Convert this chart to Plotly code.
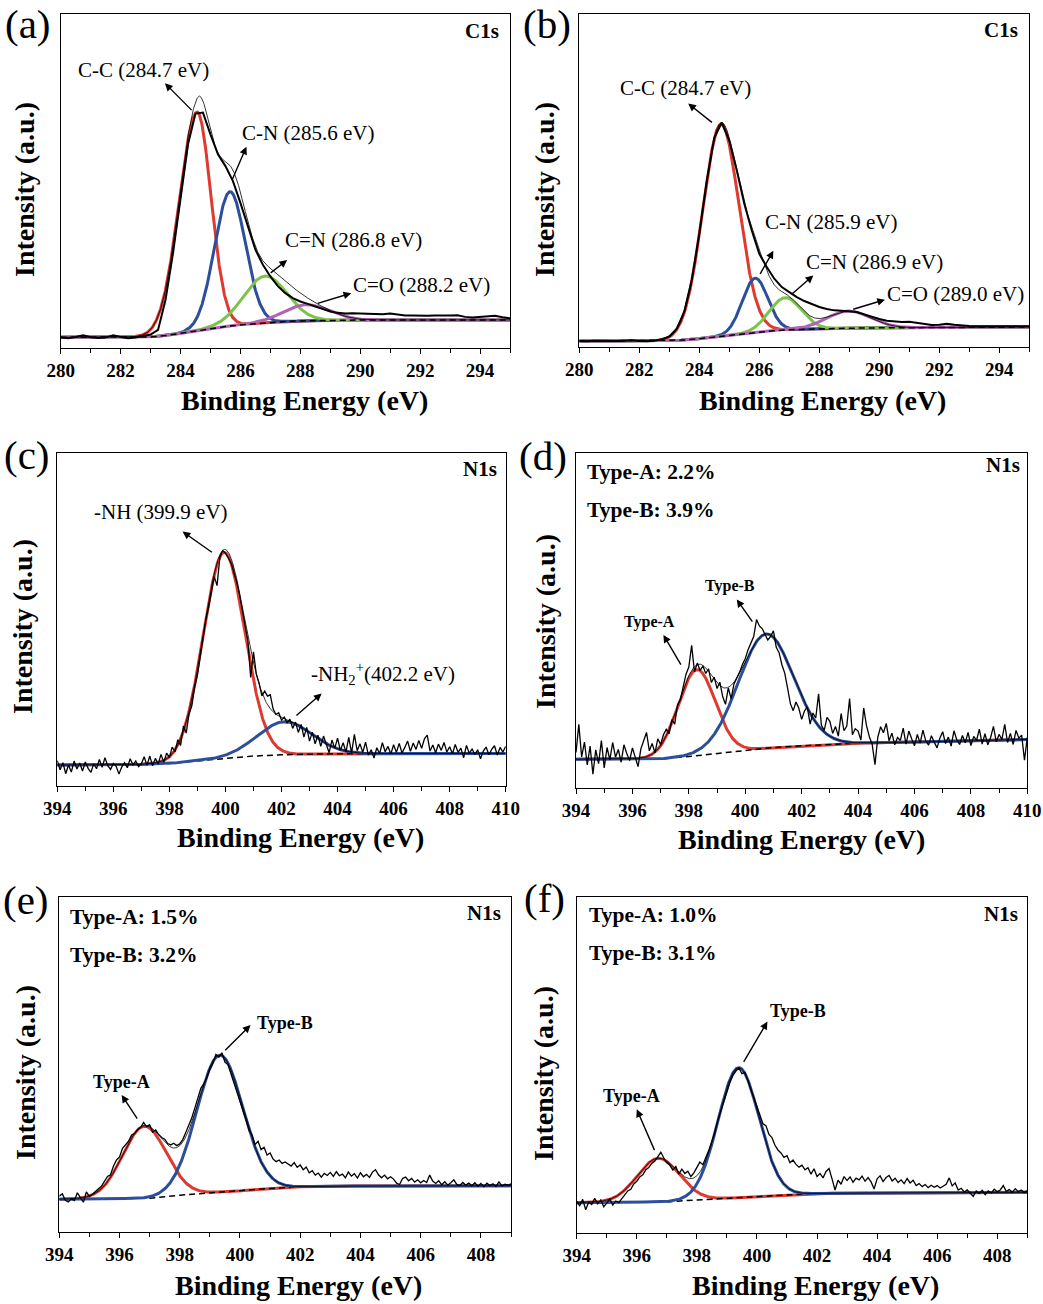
import numpy as np
import plotly.graph_objects as go

FONT = "Liberation Serif"
W, H = 1043, 1304

# ----------------------------- DATA -----------------------------
# (a) C1s
a_raw_start, a_raw_step = 280.0, 0.25
a_raw = [3.2, 3.0, 3.4, 3.9, 3.3, 3.1, 3.2, 3.9, 3.4, 3.0,
         3.2, 3.6, 4.1, 5.5, 14.5, 28.5, 44.5, 61.0, 70.2, 70.5,
         64.0, 58.0, 54.5, 50.0, 43.5, 36.5, 29.5, 25.0, 21.5, 18.6,
         16.5, 15.0, 14.0, 13.3, 12.5, 11.8, 11.0, 10.6, 10.4, 10.5,
         10.4, 10.3, 10.4, 10.2, 10.4, 10.0, 9.8, 9.8, 9.7, 9.7,
         9.8, 9.7, 9.8, 9.9, 9.4, 9.2, 9.3, 9.6, 9.7, 9.3, 9.0]
a_base_x = [280, 283, 283.5, 284, 284.5, 285, 285.5, 286, 286.5, 287, 287.5, 288, 289, 290, 295]
a_base_y = [3.3, 3.4, 3.8, 4.5, 5.2, 6.0, 6.5, 7.0, 7.4, 7.7, 8.0, 8.2, 8.35, 8.45, 8.5]
a_center = [284.55, 285.65, 286.82, 288.2]
a_amp = [65.4, 40.2, 14.0, 4.8]
a_fwhm_l = [1.4, 1.2, 1.7, 1.8]
a_fwhm_r = [1.1, 1.2, 1.7, 1.8]
a_labels = ["C-C (284.7 eV)", "C-N (285.6 eV)", "C=N (286.8 eV)", "C=O (288.2 eV)"]

# (b) C1s
b_raw_start, b_raw_step = 280.0, 0.25
b_raw = [1.8, 1.7, 1.9, 1.8, 1.7, 1.8, 1.9, 2.0, 1.8, 1.7,
         1.9, 2.3, 3.2, 5.5, 10.6, 20.2, 34.0, 50.0, 62.8, 67.4,
         62.0, 53.0, 43.0, 35.0, 28.0, 24.0, 20.5, 18.0, 16.5, 15.0,
         13.8, 12.8, 12.0, 11.4, 11.0, 10.9, 10.8, 10.5, 9.8, 9.0,
         8.4, 7.9, 7.6, 7.5, 7.6, 7.3, 6.9, 6.6, 6.7, 7.0,
         6.7, 6.4, 6.3, 6.2, 6.2, 6.2, 6.1, 6.2, 6.3, 6.1, 6.2]
b_base_x = [280, 283, 283.5, 284, 284.5, 285, 285.5, 286, 286.5, 287, 288, 289, 290, 295]
b_base_y = [1.8, 1.9, 2.1, 2.5, 3.0, 3.5, 4.0, 4.5, 4.9, 5.2, 5.5, 5.65, 5.75, 6.0]
b_center = [284.72, 285.86, 286.86, 288.97]
b_amp = [63.7, 16.3, 9.7, 5.15]
b_fwhm_l = [1.42, 1.0, 1.25, 1.7]
b_fwhm_r = [1.42, 1.0, 1.25, 1.7]
b_labels = ["C-C (284.7 eV)", "C-N (285.9 eV)", "C=N (286.9 eV)", "C=O (289.0 eV)"]

# (c) N1s
c_raw_start, c_raw_step = 394.0, 0.1
c_raw = [7.5, 4.8, 6.9, 3.6, 6.2, 4.1, 7.4, 5.0, 6.8, 4.4,
         7.1, 5.2, 4.0, 6.6, 5.1, 7.9, 5.5, 8.4, 6.0, 4.9,
         6.7, 5.8, 3.5, 5.6, 6.9, 5.4, 8.1, 6.3, 7.4, 5.7,
         6.6, 8.7, 6.1, 8.9, 6.0, 8.2, 6.5, 9.4, 7.0, 9.8,
         8.5, 11.6, 10.2, 13.8, 12.1, 17.9, 15.8, 21.5, 24.0, 29.5,
         33.2, 38.4, 43.5, 49.8, 53.6, 57.9, 62.8, 60.1, 68.5, 70.6,
         69.8, 68.4, 66.9, 64.0, 61.2, 57.5, 52.6, 49.0, 43.5, 32.5,
         40.2, 33.5, 30.8, 27.0, 28.4, 26.9, 27.3, 23.1, 21.4, 21.9,
         19.7, 20.6, 18.9, 20.0, 17.2, 19.1, 16.0, 18.4, 14.6, 17.5,
         13.4, 16.1, 12.6, 15.2, 11.8, 14.9, 12.4, 9.9, 13.7, 11.2,
         14.3, 10.6, 12.9, 10.1, 14.5, 9.8, 15.4, 10.5, 12.6, 10.0,
         13.1, 9.2, 10.8, 8.3, 11.4, 9.6, 12.9, 10.2, 11.8, 9.5,
         12.3, 10.0, 12.7, 9.8, 11.5, 13.4, 10.3, 12.8, 10.9, 13.6,
         11.2, 14.1, 15.2, 10.4, 12.2, 9.9, 12.5, 10.6, 13.0, 10.1,
         11.7, 9.6, 12.4, 10.0, 11.3, 8.4, 12.1, 9.7, 11.0, 9.4,
         10.8, 8.1, 10.4, 11.6, 9.3, 10.9, 12.0, 9.2, 11.5, 10.1,
         11.8]
c_base_x = [394, 397, 398, 399, 400, 401, 402, 403, 404, 410]
c_base_y = [6.2, 6.4, 6.7, 7.5, 8.2, 8.9, 9.3, 9.5, 9.6, 9.7]
c_center = [399.95, 402.1]
c_amp = [61.9, 9.9]
c_fwhm_l = [1.75, 2.3]
c_fwhm_r = [1.75, 2.3]
c_labels = ["-NH (399.9 eV)", "-NH<sub>2</sub><sup>+</sup>(402.2 eV)"]

# (d) N1s
d_raw_start, d_raw_step = 394.0, 0.1
d_raw = [10.5, 18.9, 9.2, 13.6, 6.8, 12.4, 4.0, 11.3, 7.2, 14.1,
         5.9, 12.0, 8.3, 13.5, 9.1, 11.4, 7.6, 12.8, 10.2, 8.1,
         11.9, 9.0, 6.3, 11.6, 13.9, 16.5, 11.0, 13.2, 10.4, 14.6,
         12.9, 15.8, 17.4, 16.1, 20.3, 19.0, 24.8, 26.2, 30.1, 33.9,
         36.0, 42.5, 34.6, 37.2, 35.0, 36.3, 34.1, 35.5, 31.4, 33.0,
         29.6, 31.5, 27.2, 24.9, 29.8, 26.5, 31.0, 32.6, 34.5, 36.8,
         38.5, 41.2, 43.0, 45.1, 50.2, 48.3, 47.5, 46.0, 44.1, 45.2,
         46.8, 41.9, 40.3, 36.7, 34.2, 29.8, 25.1, 23.0, 25.6, 23.7,
         20.4, 22.9, 24.1, 19.0, 22.3, 20.8, 28.0, 18.6, 17.1, 21.0,
         19.8, 16.2, 18.3, 15.4, 22.1, 17.0, 18.4, 26.6, 15.8, 17.6,
         16.9, 14.2, 23.8, 18.5, 15.2, 13.0, 6.9, 15.1, 18.2, 16.4,
         19.2, 14.0, 16.3, 12.8, 15.0, 14.1, 17.8, 13.0, 16.9, 14.6,
         12.5, 15.9, 13.3, 17.2, 14.0, 12.7, 15.5, 13.6, 11.9, 14.8,
         16.7, 13.2, 15.1, 12.4, 17.0, 14.3, 12.9, 15.6, 13.4, 16.5,
         12.6, 15.3, 14.1, 17.5, 13.0, 16.1, 12.8, 15.0, 18.3, 13.7,
         15.9, 14.4, 18.9, 13.5, 16.2, 12.9, 17.1, 14.8, 15.7, 8.2,
         15.0]
d_base_x = [394, 397, 398, 399, 400, 401, 402, 403, 404, 406, 410]
d_base_y = [8.5, 8.6, 9.3, 10.2, 11.2, 12.0, 12.5, 13.0, 13.3, 13.6, 14.4]
d_center = [398.28, 400.74]
d_amp = [25.7, 34.1]
d_fwhm_l = [1.55, 2.3]
d_fwhm_r = [1.55, 2.3]
d_labels = ["Type-A", "Type-B"]
d_content = ["Type-A: 2.2%", "Type-B: 3.9%"]

# (e) N1s
e_raw_start, e_raw_step = 394.0, 0.1
e_raw = [10.6, 11.3, 9.4, 8.9, 9.8, 9.3, 11.6, 10.1, 8.8, 11.9,
         10.5, 11.2, 11.9, 12.8, 13.6, 14.9, 16.5, 17.0, 19.6, 21.4,
         22.3, 24.9, 26.1, 27.0, 28.9, 29.3, 30.5, 31.1, 32.6, 31.3,
         31.9, 29.7, 30.4, 29.0, 28.1, 27.6, 26.3, 25.9, 26.4, 25.7,
         26.2, 27.5, 29.6, 31.8, 34.0, 36.9, 40.1, 42.8, 44.2, 46.0,
         48.5, 50.3, 52.9, 52.1, 53.4, 50.6, 49.9, 47.2, 44.1, 41.8,
         39.2, 36.0, 33.4, 30.2, 28.9, 26.0, 27.0, 24.5, 25.2, 22.9,
         23.5, 21.7, 20.9, 21.4, 20.4, 20.8, 20.1, 19.6, 20.6, 19.2,
         19.9, 18.5, 19.3, 17.6, 18.2, 16.9, 17.5, 16.3, 17.4, 16.8,
         17.7, 16.5, 17.9, 16.7, 17.2, 16.1, 17.8, 16.6, 17.3, 16.0,
         17.6, 16.4, 17.1, 16.2, 17.8, 18.5, 17.0, 16.1, 16.9, 15.8,
         16.4, 15.7, 14.5, 14.1, 15.9, 16.3, 15.2, 15.9, 14.8, 15.5,
         14.6, 15.3, 14.7, 16.9, 15.1, 14.4, 15.2, 14.0, 14.9, 13.9,
         14.6, 15.5, 14.1, 13.8, 14.7, 13.9, 14.5, 13.7, 14.6, 13.6,
         14.4, 13.4, 14.5, 13.8, 14.3, 13.5, 14.9, 13.7, 14.2, 13.9,
         14.3]
e_base_x = [394, 397, 398, 399, 400, 401, 402, 403, 409]
e_base_y = [9.7, 10.0, 10.9, 11.6, 12.2, 12.9, 13.4, 13.6, 13.7]
e_center = [396.83, 399.33]
e_amp = [21.5, 40.9]
e_fwhm_l = [1.7, 1.8]
e_fwhm_r = [1.7, 1.8]
e_labels = ["Type-A", "Type-B"]
e_content = ["Type-A: 1.5%", "Type-B: 3.2%"]

# (f) N1s
f_raw_start, f_raw_step = 394.0, 0.1
f_raw = [9.4, 8.2, 10.1, 7.0, 9.3, 8.6, 10.4, 8.8, 9.9, 7.9,
         9.0, 10.2, 8.4, 9.6, 9.1, 10.3, 11.4, 12.6, 13.1, 14.7,
         15.5, 16.8, 17.4, 18.9, 19.6, 20.8, 21.5, 22.9, 24.1, 22.4,
         21.0, 20.3, 18.8, 19.9, 17.6, 19.1, 17.8, 18.5, 16.9, 18.0,
         19.6, 21.2, 20.4, 22.5, 24.8, 27.3, 29.9, 33.6, 36.5, 39.8,
         42.1, 44.9, 47.0, 48.3, 49.2, 47.5, 47.9, 45.3, 42.8, 40.4,
         37.8, 35.1, 32.6, 32.0, 29.4, 28.5, 26.2, 24.8, 23.9, 22.6,
         23.1, 21.0, 21.8, 20.5, 19.7, 20.3, 18.9, 19.5, 17.6, 19.2,
         16.9, 17.8, 16.5, 18.4, 19.3, 16.2, 12.9, 15.8, 14.6, 16.9,
         15.7, 16.8, 15.2, 16.4, 15.9, 17.0, 15.5, 16.6, 15.3, 13.2,
         16.2, 17.1, 15.4, 16.6, 17.2, 15.6, 16.4, 15.1, 15.9, 14.8,
         16.3, 15.0, 15.8, 14.2, 14.8, 13.9, 14.5, 13.6, 14.3, 13.7,
         14.2, 13.5, 14.0, 14.6, 16.5, 14.1, 15.0, 12.9, 13.4, 12.3,
         12.9, 11.8, 11.0, 12.6, 11.9, 12.8, 11.5, 12.6, 12.0, 13.1,
         12.4, 12.9, 14.2, 12.5, 13.0, 12.2, 13.3, 12.4, 12.9, 12.1,
         12.7]
f_base_x = [394, 397, 398, 399, 400, 401, 402, 409]
f_base_y = [9.1, 9.4, 9.9, 10.4, 10.9, 11.4, 11.9, 12.2]
f_center = [396.72, 399.39]
f_amp = [12.95, 38.7]
f_fwhm_l = [1.65, 1.6]
f_fwhm_r = [1.65, 1.6]
f_labels = ["Type-A", "Type-B"]
f_content = ["Type-A: 1.0%", "Type-B: 3.1%"]

panel_letters = ["(a)", "(b)", "(c)", "(d)", "(e)", "(f)"]
core_levels = ["C1s", "C1s", "N1s", "N1s", "N1s", "N1s"]
x_ranges = [[280, 295], [280, 295], [394, 410], [394, 410], [394, 409], [394, 409]]
x_tick0 = [280, 280, 394, 394, 394, 394]
x_title = "Binding Energy (eV)"
y_title = "Intensity (a.u.)"

# ----------------------------- STYLE / LAYOUT -----------------------------
C1S_COLORS = ["#de3a30", "#2c4f9c", "#7cc24b", "#b263b5"]
N1S_COLORS = ["#de3a30", "#2c4f9c"]

# plot-area boxes in pixels: left, right, top, bottom
boxes = [(60.7, 510.0, 14.0, 348.3), (579.3, 1029.3, 14.0, 347.0),
         (57.3, 505.7, 452.7, 785.7), (576.0, 1027.3, 452.7, 787.7),
         (59.3, 511.0, 896.7, 1231.7), (576.7, 1027.3, 897.3, 1233.3)]
letter_pos = [(28, 24), (547, 24), (27, 455), (543, 456), (26, 900), (544, 898)]
xtitle_pos = [(304, 401), (822, 401), (300, 838), (801, 840), (298, 1285), (815, 1285)]
ytitle_pos = [(25, 190), (545, 190), (23, 627), (545, 622), (25, 1073), (543, 1074)]
core_pos = [(294.7, 94.9), (294.69, 95.2), (409.76, 95.0), (409.8, 96.3), (408.73, 95.0), (408.76, 94.9)]

label_pos = {
    0: [(282.78, 83.3), (288.26, 64.3), (289.78, 32.4), (292.03, 18.9)],
    1: [(283.54, 77.7), (288.39, 37.6), (289.83, 25.6), (292.54, 16.0)],
    2: [(397.69, 82.3), (405.61, 33.7)],
    3: [(396.62, 49.6), (399.46, 60.3)],
    4: [(396.07, 44.8), (401.49, 62.2)],
    5: [(395.83, 40.9), (401.38, 66.2)],
}
# arrows: head x, head y, tail x, tail y
arrow_pos = {
    0: [(283.48, 79.3, 284.42, 70.8), (286.2, 60.3, 285.7, 49.9),
        (287.56, 26.4, 286.96, 22.2), (289.7, 16.5, 288.53, 13.3)],
    1: [(283.63, 73.1, 284.47, 67.1), (286.47, 28.9, 286.0, 21.5),
        (287.8, 21.5, 287.04, 15.5), (290.19, 14.2, 289.08, 11.2)],
    2: [(398.47, 76.3, 399.57, 69.8), (403.43, 27.7, 402.48, 20.7)],
    3: [(397.1, 45.6, 397.75, 36.3), (399.7, 56.2, 400.29, 49.1)],
    4: [(396.07, 40.8, 396.62, 33.3), (400.35, 61.7, 399.46, 53.7)],
    5: [(396.0, 36.9, 396.61, 24.3), (400.35, 63.0, 399.53, 50.6)],
}
content_pos = {3: [(394.32, 94.1), (394.32, 82.9)],
               4: [(394.3, 94.0), (394.3, 82.6)],
               5: [(394.33, 94.7), (394.33, 83.5)]}

panels = [
    (a_raw_start, a_raw_step, a_raw, a_base_x, a_base_y, a_center, a_amp, a_fwhm_l, a_fwhm_r, a_labels, None),
    (b_raw_start, b_raw_step, b_raw, b_base_x, b_base_y, b_center, b_amp, b_fwhm_l, b_fwhm_r, b_labels, None),
    (c_raw_start, c_raw_step, c_raw, c_base_x, c_base_y, c_center, c_amp, c_fwhm_l, c_fwhm_r, c_labels, None),
    (d_raw_start, d_raw_step, d_raw, d_base_x, d_base_y, d_center, d_amp, d_fwhm_l, d_fwhm_r, d_labels, d_content),
    (e_raw_start, e_raw_step, e_raw, e_base_x, e_base_y, e_center, e_amp, e_fwhm_l, e_fwhm_r, e_labels, e_content),
    (f_raw_start, f_raw_step, f_raw, f_base_x, f_base_y, f_center, f_amp, f_fwhm_l, f_fwhm_r, f_labels, f_content),
]

fig = go.Figure()
annotations = []
layout_axes = {}

for i, (rs, rstep, raw, bx, by, cen, amp, fl, fr, labels, content) in enumerate(panels):
    k = i + 1
    xa = "x" if k == 1 else f"x{k}"
    ya = "y" if k == 1 else f"y{k}"
    xr = x_ranges[i]
    is_c = core_levels[i] == "C1s"
    colors = C1S_COLORS if is_c else N1S_COLORS

    xf = np.linspace(xr[0], xr[1], 1201)
    base = np.interp(xf, bx, by)
    comps = []
    for c, a, l, r in zip(cen, amp, fl, fr):
        s = np.where(xf < c, l / 2.3548, r / 2.3548)
        comps.append(a * np.exp(-(xf - c) ** 2 / (2 * s ** 2)))

    base_after = len(comps) - 1 if is_c else 0
    for j, comp in enumerate(comps):
        fig.add_trace(go.Scatter(x=xf, y=base + comp, mode="lines",
                                 line=dict(color=colors[j], width=3),
                                 xaxis=xa, yaxis=ya, showlegend=False, hoverinfo="skip"))
        if j == base_after:
            fig.add_trace(go.Scatter(x=bx, y=by, mode="lines",
                                     line=dict(color="black", width=1.5, dash="6px,4px"),
                                     xaxis=xa, yaxis=ya, showlegend=False, hoverinfo="skip"))
    xraw = rs + rstep * np.arange(len(raw))
    fig.add_trace(go.Scatter(x=xraw, y=raw, mode="lines",
                             line=dict(color="black", width=2.0 if is_c else 1.3),
                             xaxis=xa, yaxis=ya, showlegend=False, hoverinfo="skip"))
    fig.add_trace(go.Scatter(x=xf, y=base + np.sum(comps, axis=0), mode="lines",
                             line=dict(color="black", width=0.8),
                             xaxis=xa, yaxis=ya, showlegend=False, hoverinfo="skip"))

    L, R, T, B = boxes[i]
    xkey = "xaxis" if k == 1 else f"xaxis{k}"
    ykey = "yaxis" if k == 1 else f"yaxis{k}"
    layout_axes[xkey] = dict(
        domain=[L / W, R / W], range=xr, anchor=ya, automargin=False,
        showline=True, linecolor="black", linewidth=1.3, mirror=True,
        showgrid=False, zeroline=False,
        ticks="outside", ticklen=5, tickwidth=1.2, tickcolor="black",
        tick0=x_tick0[i], dtick=2,
        minor=dict(dtick=1, ticks="outside", ticklen=4, tickwidth=1.2, tickcolor="black", showgrid=False),
        tickfont=dict(family=FONT, size=19, color="black", weight="bold"),
    )
    layout_axes[ykey] = dict(
        domain=[1 - B / H, 1 - T / H], range=[0, 100], anchor=xa, automargin=False,
        showline=True, linecolor="black", linewidth=1.3, mirror=True,
        showgrid=False, zeroline=False, ticks="", showticklabels=False,
    )

    # panel letter
    lx, ly = letter_pos[i]
    annotations.append(dict(text=panel_letters[i], x=lx / W, y=1 - ly / H, xref="paper", yref="paper",
                            showarrow=False, xanchor="center", yanchor="middle",
                            font=dict(family=FONT, size=41, color="black")))
    # axis titles
    tx, ty = xtitle_pos[i]
    annotations.append(dict(text=x_title, x=tx / W, y=1 - ty / H, xref="paper", yref="paper",
                            showarrow=False, xanchor="center", yanchor="middle",
                            font=dict(family=FONT, size=28, color="black", weight="bold")))
    tx, ty = ytitle_pos[i]
    annotations.append(dict(text=y_title, x=tx / W, y=1 - ty / H, xref="paper", yref="paper",
                            showarrow=False, xanchor="center", yanchor="middle", textangle=-90,
                            font=dict(family=FONT, size=28, color="black", weight="bold")))
    # core level tag
    cx, cy = core_pos[i]
    annotations.append(dict(text=core_levels[i], x=cx, y=cy, xref=xa, yref=ya, showarrow=False,
                            xanchor="right", yanchor="middle",
                            font=dict(family=FONT, size=21, color="black", weight="bold")))
    # peak labels
    for (px_, py_), txt in zip(label_pos[i], labels):
        if is_c or i == 2:
            fnt = dict(family=FONT, size=21, color="black")
        else:
            fnt = dict(family=FONT, size=16 if i == 3 else 18, color="black", weight="bold")
        annotations.append(dict(text=txt, x=px_, y=py_, xref=xa, yref=ya, showarrow=False,
                                xanchor="center", yanchor="middle", font=fnt))
    for hx, hy, tx_, ty_ in arrow_pos[i]:
        annotations.append(dict(text="", x=hx, y=hy, ax=tx_, ay=ty_, xref=xa, yref=ya,
                                axref=xa, ayref=ya, showarrow=True, arrowhead=2, arrowsize=1.1,
                                arrowwidth=1.4, arrowcolor="black", standoff=0, startstandoff=0))
    if content is not None:
        for (px_, py_), txt in zip(content_pos[i], content):
            annotations.append(dict(text=txt, x=px_, y=py_, xref=xa, yref=ya, showarrow=False,
                                    xanchor="left", yanchor="middle",
                                    font=dict(family=FONT, size=21.5, color="black", weight="bold")))

fig.update_layout(
    width=W, height=H, margin=dict(l=0, r=0, t=0, b=0),
    paper_bgcolor="white", plot_bgcolor="white",
    showlegend=False, annotations=annotations,
    font=dict(family=FONT, color="black"),
    **layout_axes,
)

fig.write_html("out.html", config={"displayModeBar": False},
               post_script="document.body.style.margin='0px';")
